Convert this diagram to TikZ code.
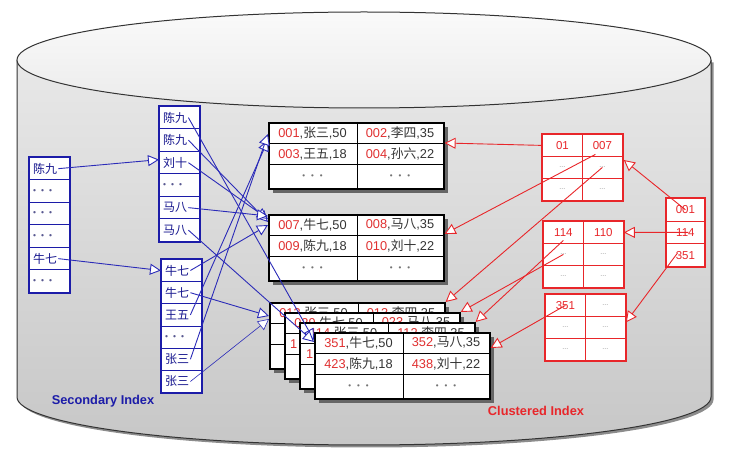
\documentclass[tikz,border=0pt]{standalone}
\usepackage{fontspec}
\setmainfont{Liberation Sans}
\newfontfamily\cjk{Noto Sans CJK SC}
\usetikzlibrary{arrows.meta,shadows,calc}
\definecolor{secblue}{HTML}{1C1CA8}
\definecolor{lineblue}{HTML}{2B2BB8}
\definecolor{cred}{HTML}{E8262A}
\definecolor{dred}{HTML}{E03030}
\definecolor{txtgray}{HTML}{333333}
\newcommand\zh[1]{{\cjk #1}}
\newcommand\rd[1]{\textcolor{dred}{#1}}
\newcommand\bdots{{\fontsize{8}{8}\selectfont\color{black!55}•\hspace{6pt}•\hspace{6pt}•}}
\newcommand\sdots{{\fontsize{8.5}{8.5}\selectfont\color{secblue!40!gray}•\hspace{5pt}•\hspace{5pt}•}}
\newcommand\cdotsr{{\fontsize{7}{7}\selectfont\color{black!45}...}}
\newcommand\datapage[8]{%
  \node[pagebox] (#1) at (#2,#3) {};
  \draw[pageline] ($(#1.north west)+(0,21.5)$) -- ($(#1.north east)+(0,21.5)$);
  \draw[pageline] ($(#1.north west)+(0,42.5)$) -- ($(#1.north east)+(0,42.5)$);
  \draw[pageline] ($(#1.north west)+(89,0)$) -- ($(#1.south west)+(89,0)$);
  \node[pagetext] (#1a) at ($(#1.north west)+(44.5,10.75)$) {#4};
  \node[pagetext] (#1b) at ($(#1.north west)+(132,10.75)$) {#5};
  \node[pagetext] (#1c) at ($(#1.north west)+(44.5,32)$) {#6};
  \node[pagetext] (#1d) at ($(#1.north west)+(132,32)$) {#7};
  \node[pagetext] (#1e) at ($(#1.north west)+(44.5,54.5)$) {#8};
  \node[pagetext] (#1f) at ($(#1.north west)+(132,54.5)$) {#8};
}
\newcommand\seccol[5]{%
  \foreach \txt [count=\i] in {#5} {
    \node[seccell, minimum height=#4pt] (#1\i) at (#2,{#3+(\i-1)*#4}) {};
    \node[sectext] (#1\i t) at ($(#1\i.west)+(3,0)$) {\txt};
  }
  \draw[secblue, line width=2pt] (#11.north west) rectangle (#16.south east);
}
\newcommand\cblock[4]{%
  \foreach \txt [count=\i] in {#4} {
    \pgfmathtruncatemacro\rowi{(\i-1)/2}
    \pgfmathtruncatemacro\coli{mod(\i-1,2)}
    \node[ccell] (#1\i) at ({#2+\coli*40},{#3+\rowi*22}) {\txt};
  }
  \draw[cred, line width=2pt] (#11.north west) rectangle (#16.south east);
}
\begin{document}
\begin{tikzpicture}[x=1pt,y=-1pt,
  pagebox/.style={draw=black, line width=1.6pt, fill=white, minimum width=175pt, minimum height=66pt, anchor=north west, inner sep=0pt, drop shadow={shadow xshift=4pt, shadow yshift=-4pt, fill=black!60, opacity=1}},
  pageline/.style={draw=black, line width=0.9pt},
  pagetext/.style={inner sep=0pt, text=txtgray, font=\fontsize{12.8}{14}\selectfont},
  seccell/.style={draw=secblue, line width=0.8pt, fill=white, minimum width=40pt, anchor=north west, inner sep=0pt},
  sectext/.style={anchor=west, inner sep=1pt, text=secblue!85!black, font=\fontsize{12}{12}\selectfont},
  ccell/.style={draw=cred, line width=0.8pt, fill=white, minimum width=40pt, minimum height=22pt, anchor=north west, inner sep=0pt, text=cred, font=\fontsize{11.5}{12}\selectfont},
  rcell/.style={draw=cred, line width=0.8pt, fill=white, minimum width=38pt, minimum height=22.7pt, anchor=north west, inner sep=0pt, text=cred, font=\fontsize{11.5}{12}\selectfont},
  bline/.style={draw=lineblue, line width=0.9pt, -{Triangle[length=11pt,width=11pt,fill=white]}},
  rline/.style={draw=cred, line width=0.9pt, -{Triangle[length=11pt,width=11pt,fill=white]}},
  lbl/.style={font=\bfseries\fontsize{12.8}{14}\selectfont, inner sep=0pt}
]
\useasboundingbox (0,0) rectangle (732,457);
\fill[white] (0,0) rectangle (732,457);
% cylinder
\fill[black!45, shift={(2.5,2.5)}] (17,60) -- (17,397) arc[start angle=180,end angle=0,x radius=347,y radius=48] -- (711,60) -- cycle;
\shade[top color=black!9, bottom color=black!22] (17,60) -- (17,397) arc[start angle=180,end angle=0,x radius=347,y radius=48] -- (711,60) -- cycle;
\draw[black!80, line width=1pt] (17,60) -- (17,397) arc[start angle=180,end angle=0,x radius=347,y radius=48] -- (711,60);
\shade[top color=black!2, bottom color=black!8, draw=black!80, line width=1pt] (364,60) ellipse[x radius=347,y radius=48];
% data pages
\datapage{p1}{268}{122}{\rd{001},\zh{张三},50}{\rd{002},\zh{李四},35}{\rd{003},\zh{王五},18}{\rd{004},\zh{孙六},22}{\bdots}
\datapage{p2}{268}{214}{\rd{007},\zh{牛七},50}{\rd{008},\zh{马八},35}{\rd{009},\zh{陈九},18}{\rd{010},\zh{刘十},22}{\bdots}
\datapage{pa}{269}{302}{\rd{013},\zh{张三},50}{\rd{013},\zh{李四},35}{}{}{}
\datapage{pb}{284}{312}{\rd{029},\zh{牛七},50}{\rd{023},\zh{马八},35}{}{}{}
\node[pagetext, anchor=west] (pbone) at ($(pb.north west)+(6,32)$) {\rd{1}};
\datapage{pc}{299}{322}{\rd{114},\zh{张三},50}{\rd{112},\zh{李四},35}{}{}{}
\node[pagetext, anchor=west] (pcone) at ($(pc.north west)+(7,32)$) {\rd{1}};
\datapage{pd}{314}{332}{\rd{351},\zh{牛七},50}{\rd{352},\zh{马八},35}{\rd{423},\zh{陈九},18}{\rd{438},\zh{刘十},22}{\bdots}
% secondary index
\seccol{l}{29}{157}{22.5}{\zh{陈九},\sdots,\sdots,\sdots,\zh{牛七},\sdots}
\seccol{u}{159}{106}{22.5}{\zh{陈九},\zh{陈九},\zh{刘十},\sdots,\zh{马八},\zh{马八}}
\seccol{d}{161}{259}{22.2}{\zh{牛七},\zh{牛七},\zh{王五},\sdots,\zh{张三},\zh{张三}}
% clustered index
\cblock{ct}{542}{134}{01,007,\cdotsr,\cdotsr,\cdotsr,\cdotsr}
\cblock{cm}{543}{221}{114,110,\cdotsr,\cdotsr,\cdotsr,\cdotsr}
\cblock{cb}{545}{294}{351,\cdotsr,\cdotsr,\cdotsr,\cdotsr,\cdotsr}
\foreach \txt [count=\i] in {001,114,351} {
  \node[rcell] (r\i) at (666,{198+(\i-1)*22.7}) {\txt};
}
\draw[cred, line width=2pt] (r1.north west) rectangle (r3.south east);
% labels
\node[lbl, text=secblue] (seclabel) at (103,401) {Secondary Index};
\node[lbl, text=cred] (clulabel) at (536,411) {Clustered Index};
% blue connectors
\draw[bline] (l1t.east) -- ($(u3.west)+(0,-3)$);
\draw[bline] (l5t.east) -- (d1.west);
\draw[bline] (u1t.east) -- ($(pd.north west)+(0,8)$);
\draw[bline] (u2t.east) -- ($(p2.north west)+(0,8)$);
\draw[bline] (u3t.east) -- ($(p2.north west)+(0,5)$);
\draw[bline] (u5t.east) -- ($(p2.north west)+(0,2)$);
\draw[bline] (u6t.east) -- ($(pd.north west)+(0,10)$);
\draw[bline] (d1t.east) -- ($(p2.north west)+(0,11)$);
\draw[bline] (d3t.east) -- ($(p1.north west)+(0,18)$);
\draw[bline] (d5t.east) -- ($(p1.north west)+(0,12)$);
\draw[bline] (d2t.east) -- ($(pa.north west)+(0,14)$);
\draw[bline, line width=0.6pt] (d6t.east) -- ($(pa.north west)+(0,17)$);
% red connectors
\draw[rline] (ct1.west) -- ($(p1.north east)+(0,21)$);
\draw[rline] ($(ct2.center)+(-7,9)$) -- ($(p2.north east)+(0,20)$);
\draw[rline] (ct4.center) -- (pa.north east);
\draw[rline] (cm3.center) -- (pb.north east);
\draw[rline] ($(cm1.center)+(0,8)$) -- (pc.north east);
\draw[rline] (cb1.center) -- ($(pd.north east)+(0,16)$);
\draw[rline] (r1.center) -- ($(ct4.north east)+(1,4)$);
\draw[rline] ($(r2.center)+(3,0)$) -- (cm2.east);
\draw[rline] ($(r3.center)+(-8,-2)$) -- ($(cb4.east)+(0,-5)$);
\end{tikzpicture}
\end{document}
